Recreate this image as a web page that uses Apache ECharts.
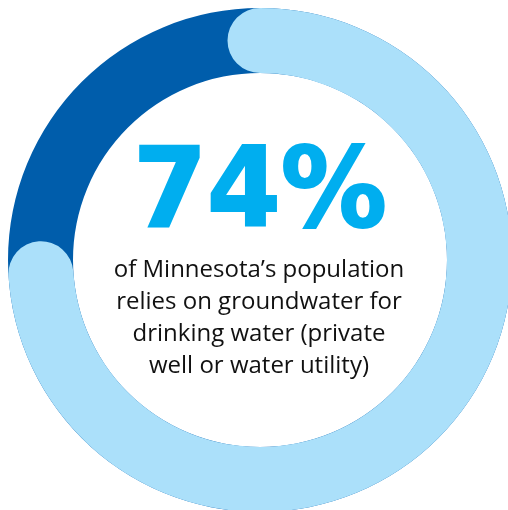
<!DOCTYPE html>
<html>
<head>
<meta charset="utf-8">
<script src="https://cdn.jsdelivr.net/npm/echarts@6/dist/echarts.min.js"></script>
<style>html,body{margin:0;padding:0;background:#fff}#c{width:508px;height:510px}</style>
</head>
<body>
<div id="c"></div>
<script>
const categories = ['Groundwater', 'Other sources'];
const shares = [74, 26];
const headline = '74%';
const captionLines = [
  'of Minnesota\u2019s population',
  'relies on groundwater for',
  'drinking water (private',
  'well or water utility)'
];

const chart = echarts.init(document.getElementById('c'), null, {renderer: 'canvas'});
chart.setOption({
  animation: false,
  polar: { center: [260, 260], radius: [187, 252] },
  angleAxis: { type: 'value', min: 0, max: shares[0] + shares[1], startAngle: 90, clockwise: true, show: false },
  radiusAxis: { type: 'category', data: [categories[0]], show: false },
  graphic: [
    {
      type: 'text', x: 260, y: 197, scaleX: 1.07, silent: true,
      style: {
        text: headline, fill: '#00aeef', stroke: '#00aeef', lineWidth: 2,
        font: 'bold 110px "DejaVu Sans Condensed"',
        textAlign: 'center', textVerticalAlign: 'middle'
      }
    },
    {
      type: 'text', x: 259, y: 318, silent: true,
      style: {
        text: captionLines.join('\n'), fill: '#111',
        font: '24px "Open Sans"', lineHeight: 32,
        textAlign: 'center', textVerticalAlign: 'middle'
      }
    }
  ],
  series: [{
    type: 'bar',
    coordinateSystem: 'polar',
    data: [shares[0]],
    barWidth: '100%',
    roundCap: true,
    showBackground: true,
    backgroundStyle: { color: '#005dab' },
    itemStyle: { color: '#abe0fa' },
    silent: true
  }]
});
</script>
</body>
</html>
